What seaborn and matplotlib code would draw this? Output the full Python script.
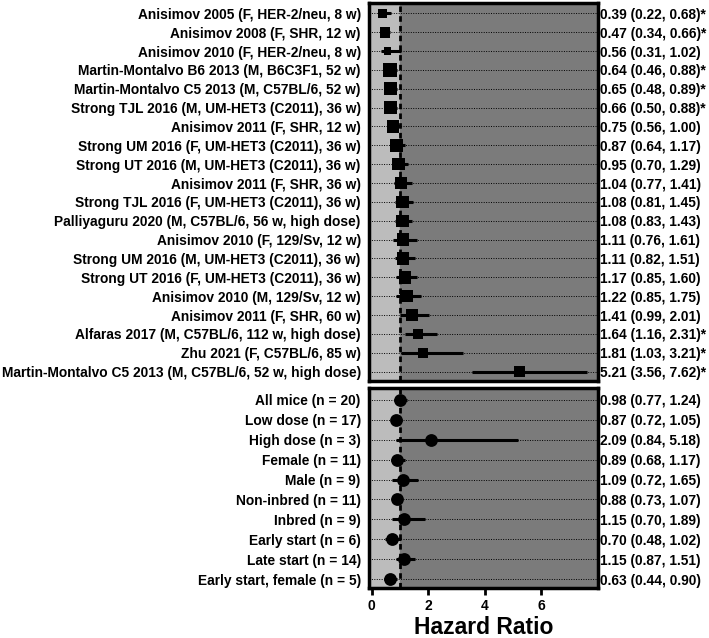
import numpy as np
import pandas as pd
import seaborn as sns
import matplotlib.pyplot as plt

sns.set_style("white")
plt.rcParams["font.family"] = ["Liberation Sans", "DejaVu Sans"]
plt.rcParams["font.weight"] = "bold"

# estudos individuais
estudos = [
    "Anisimov 2005 (F, HER-2/neu, 8 w)",
    "Anisimov 2008 (F, SHR, 12 w)",
    "Anisimov 2010 (F, HER-2/neu, 8 w)",
    "Martin-Montalvo B6 2013 (M, B6C3F1, 52 w)",
    "Martin-Montalvo C5 2013 (M, C57BL/6, 52 w)",
    "Strong TJL 2016 (M, UM-HET3 (C2011), 36 w)",
    "Anisimov 2011 (F, SHR, 12 w)",
    "Strong UM 2016 (F, UM-HET3 (C2011), 36 w)",
    "Strong UT 2016 (M, UM-HET3 (C2011), 36 w)",
    "Anisimov 2011 (F, SHR, 36 w)",
    "Strong TJL 2016 (F, UM-HET3 (C2011), 36 w)",
    "Palliyaguru 2020 (M, C57BL/6, 56 w, high dose)",
    "Anisimov 2010 (F, 129/Sv, 12 w)",
    "Strong UM 2016 (M, UM-HET3 (C2011), 36 w)",
    "Strong UT 2016 (F, UM-HET3 (C2011), 36 w)",
    "Anisimov 2010 (M, 129/Sv, 12 w)",
    "Anisimov 2011 (F, SHR, 60 w)",
    "Alfaras 2017 (M, C57BL/6, 112 w, high dose)",
    "Zhu 2021 (F, C57BL/6, 85 w)",
    "Martin-Montalvo C5 2013 (M, C57BL/6, 52 w, high dose)",
]
hr = [0.39, 0.47, 0.56, 0.64, 0.65, 0.66, 0.75, 0.87, 0.95, 1.04,
      1.08, 1.08, 1.11, 1.11, 1.17, 1.22, 1.41, 1.64, 1.81, 5.21]
lo = [0.22, 0.34, 0.31, 0.46, 0.48, 0.50, 0.56, 0.64, 0.70, 0.77,
      0.81, 0.83, 0.76, 0.82, 0.85, 0.85, 0.99, 1.16, 1.03, 3.56]
hi = [0.68, 0.66, 1.02, 0.88, 0.89, 0.88, 1.00, 1.17, 1.29, 1.41,
      1.45, 1.43, 1.61, 1.51, 1.60, 1.75, 2.01, 2.31, 3.21, 7.62]
signif = [1, 1, 0, 1, 1, 1, 0, 0, 0, 0, 0, 0, 0, 0, 0, 0, 0, 1, 1, 1]
# peso do estudo (tamanho do quadrado)
peso = [40, 60, 30, 90, 90, 80, 75, 80, 80, 80,
        80, 80, 80, 80, 80, 80, 70, 55, 55, 65]

# subgrupos
grupos = [
    "All mice (n = 20)", "Low dose (n = 17)", "High dose (n = 3)",
    "Female (n = 11)", "Male (n = 9)", "Non-inbred (n = 11)",
    "Inbred (n = 9)", "Early start (n = 6)", "Late start (n = 14)",
    "Early start, female (n = 5)",
]
hr_g = [0.98, 0.87, 2.09, 0.89, 1.09, 0.88, 1.15, 0.70, 1.15, 0.63]
lo_g = [0.77, 0.72, 0.84, 0.68, 0.72, 0.73, 0.70, 0.48, 0.87, 0.44]
hi_g = [1.24, 1.05, 5.18, 1.17, 1.65, 1.07, 1.89, 1.02, 1.51, 0.90]

x_ticks = [0, 2, 4, 6]

tab_est = pd.DataFrame({"hr": hr, "lo": lo, "hi": hi, "peso": peso,
                        "pos": np.arange(len(estudos))})
tab_grp = pd.DataFrame({"hr": hr_g, "lo": lo_g, "hi": hi_g,
                        "pos": np.arange(len(grupos))})

def fmt(h, l, u, s=0):
    return "%.2f (%.2f, %.2f)%s" % (h, l, u, "*" if s else "")

W, H = 709, 638
fig = plt.figure(figsize=(W / 100, H / 100), dpi=100)
ax1 = fig.add_axes([369 / W, 1 - 381 / H, 229 / W, 378 / H])
ax2 = fig.add_axes([369 / W, 1 - 588 / H, 229 / W, 200 / H])

XMIN, XMAX = -0.1, 8.0
LW = 2.5
FS = 9.9

def painel(ax, tab, rotulos, direita, marcador, ylim, tamanho=None):
    ax.axvspan(XMIN, 1, color="#bcbcbc", zorder=0)
    ax.axvspan(1, XMAX, color="#7b7b7b", zorder=0)
    for p in tab["pos"]:
        ax.axhline(p, color="black", lw=0.7, ls=(0, (1, 1.5)), zorder=1)
    ax.axvline(1, color="black", lw=2, ls=(0, (2, 1.5)), zorder=2)
    ax.hlines(tab["pos"], tab["lo"], tab["hi"], color="black", lw=2.2, zorder=3)
    if tamanho is not None:
        sns.scatterplot(data=tab, x="hr", y="pos", size=tamanho,
                        sizes=(min(tab[tamanho]), max(tab[tamanho])),
                        size_norm=(min(tab[tamanho]), max(tab[tamanho])),
                        marker=marcador, color="black", linewidth=0,
                        legend=False, ax=ax, zorder=4)
    else:
        sns.scatterplot(data=tab, x="hr", y="pos", s=85, marker=marcador,
                        color="black", linewidth=0, legend=False, ax=ax, zorder=4)
    ax.set_xlim(XMIN, XMAX)
    ax.set_ylim(*ylim)
    ax.set_yticks(tab["pos"])
    ax.set_yticklabels(rotulos, fontsize=FS, fontweight="bold", color="black")
    ax.tick_params(axis="y", length=0, pad=6)
    ax.set_xlabel("")
    ax.set_ylabel("")
    for s in ax.spines.values():
        s.set_linewidth(LW)
        s.set_color("black")
    ax2_ = ax.twinx()
    ax2_.set_ylim(*ylim)
    ax2_.set_yticks(tab["pos"])
    ax2_.set_yticklabels(direita, fontsize=FS, fontweight="bold", color="black")
    ax2_.tick_params(axis="y", length=0, pad=1.5)
    for s in ax2_.spines.values():
        s.set_visible(False)

painel(ax1, tab_est, estudos,
       [fmt(*v) for v in zip(hr, lo, hi, signif)], "s", (19.5, -0.55), "peso")
ax1.set_xticks([])

painel(ax2, tab_grp, grupos,
       [fmt(*v) for v in zip(hr_g, lo_g, hi_g)], "o", (9.45, -0.6))
ax2.set_xticks(x_ticks)
ax2.set_xticklabels([str(t) for t in x_ticks], fontsize=10, fontweight="bold",
                    color="black")
ax2.tick_params(axis="x", bottom=True, length=5, width=2, pad=3, color="black")
ax2.set_xlabel("Hazard Ratio", fontsize=16.5, fontweight="bold", labelpad=2,
               color="black")

fig.savefig("out.png", dpi=100)
